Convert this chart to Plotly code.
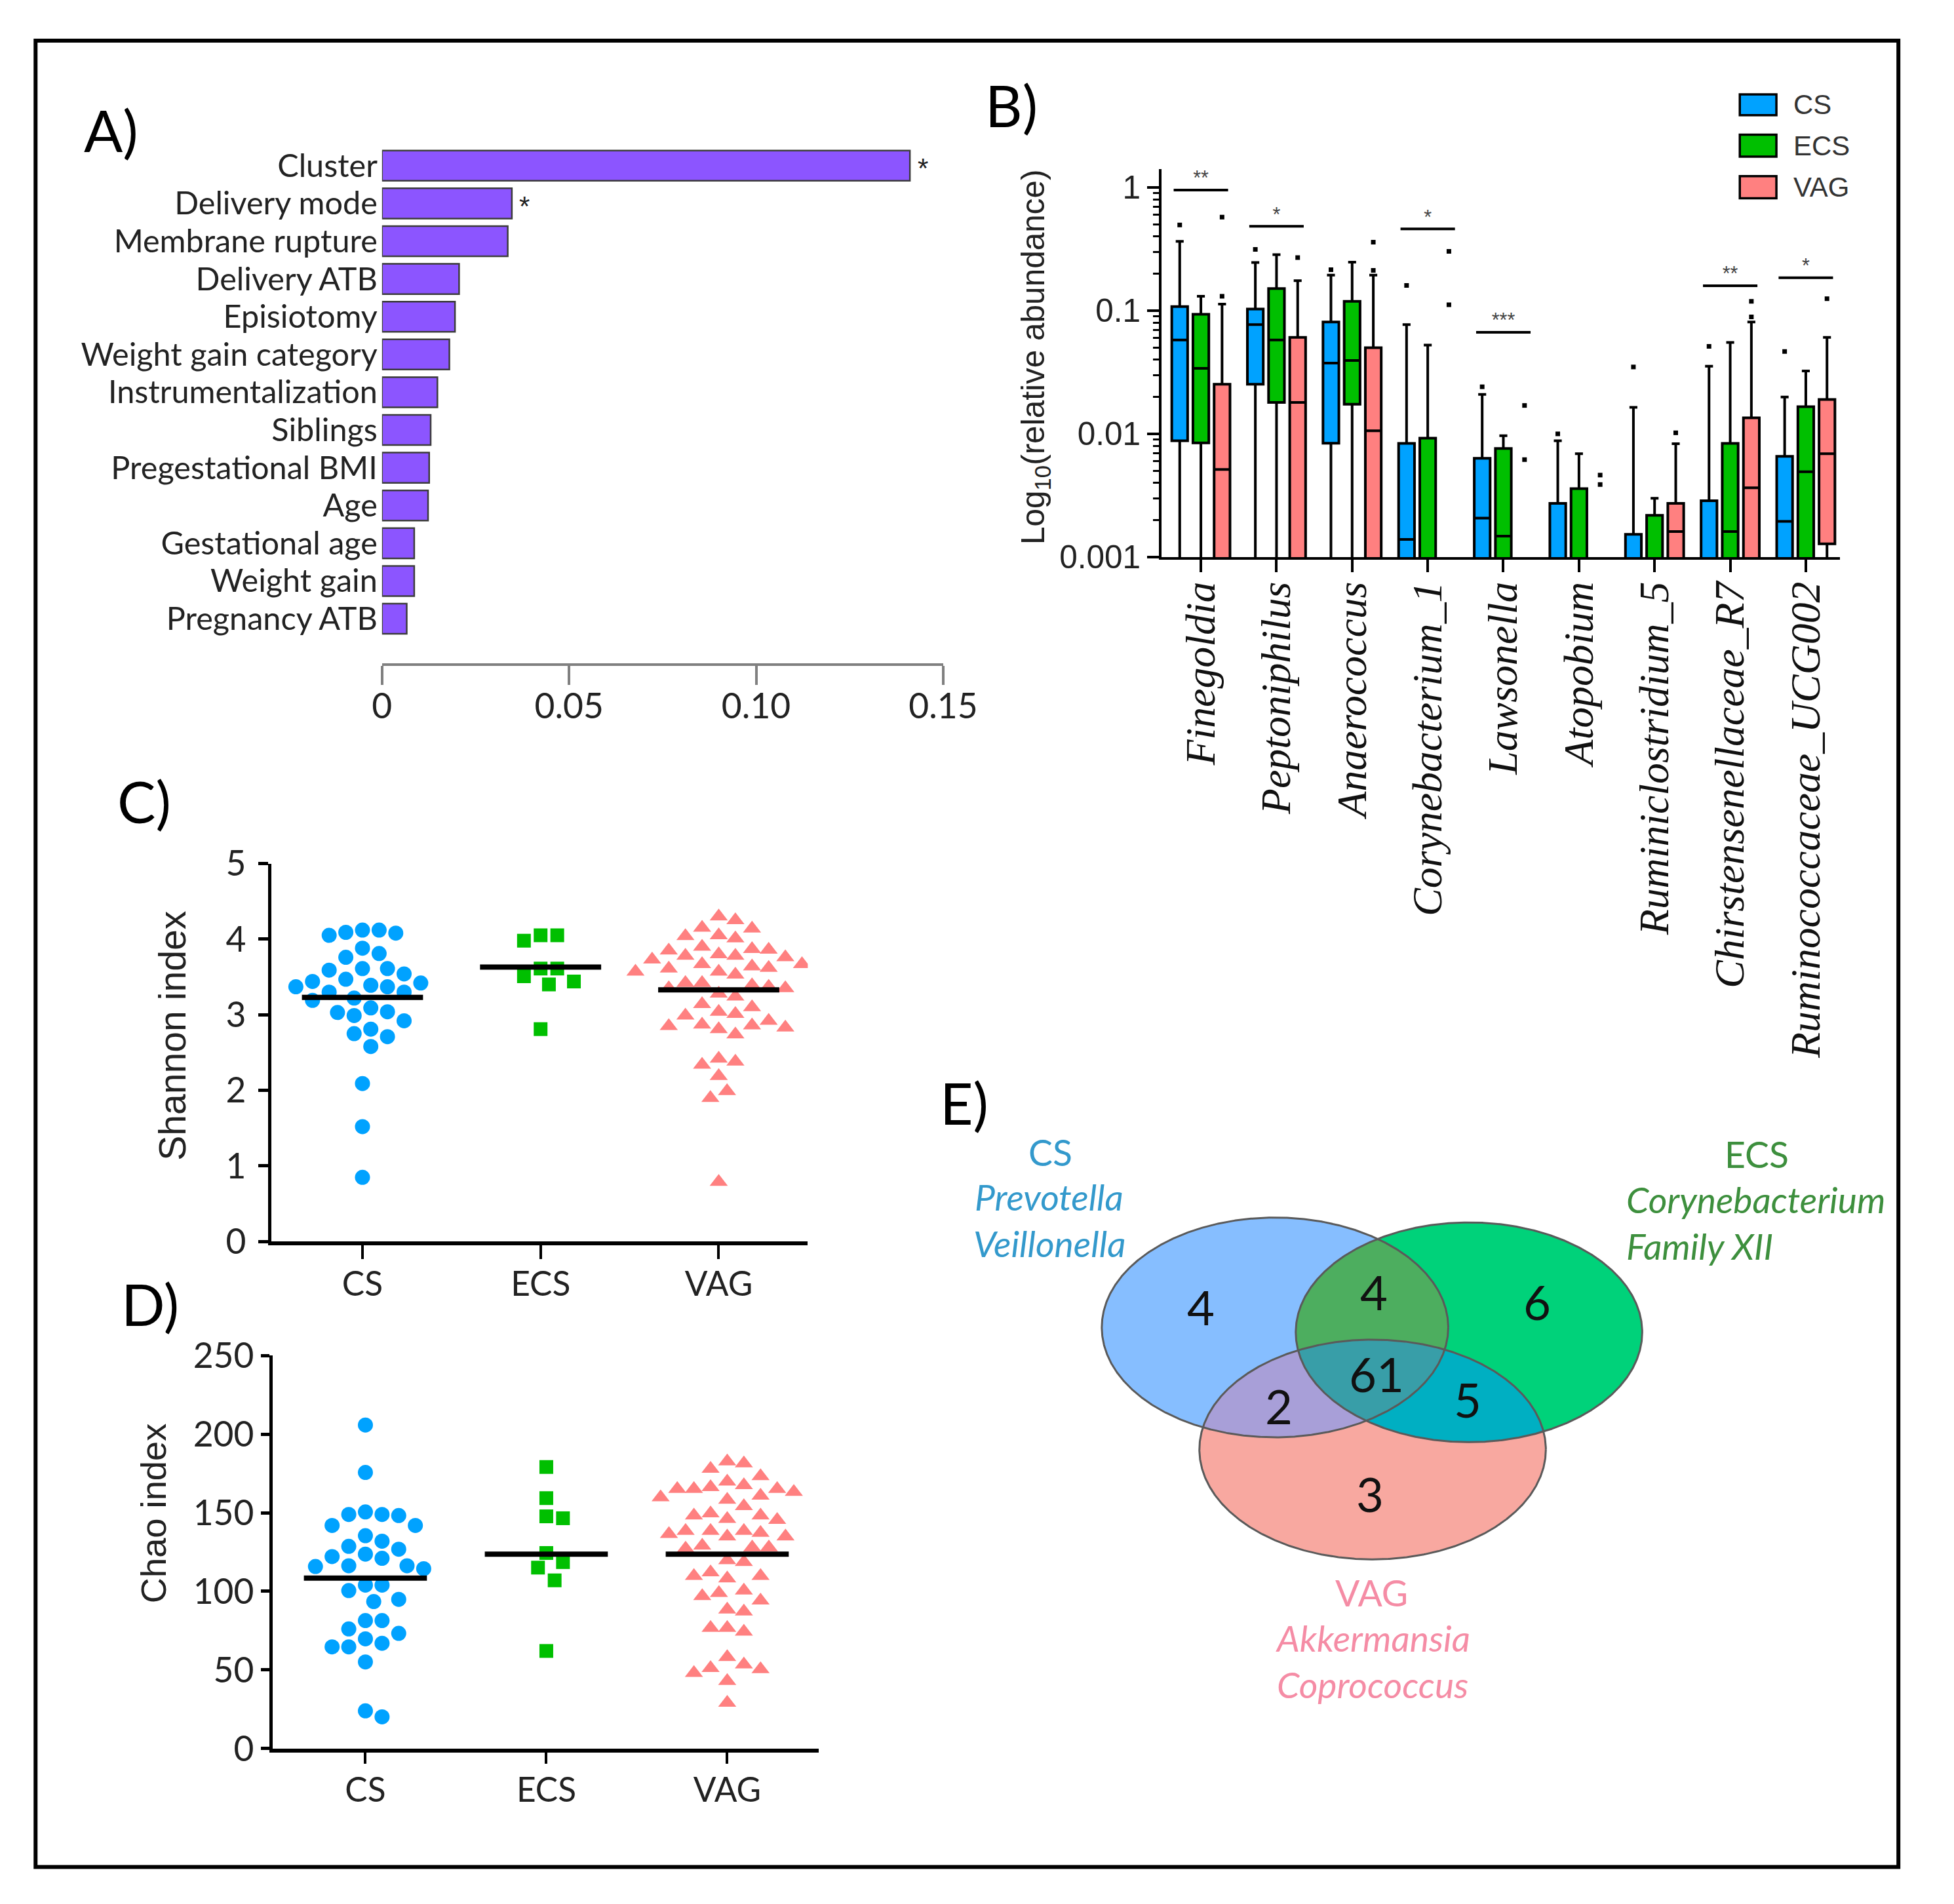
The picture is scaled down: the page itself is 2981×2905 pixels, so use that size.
import numpy as np
import plotly.graph_objects as go

# ============================ DATA ============================
# Panel A - variable importance
A_FEATURES = ["Cluster", "Delivery mode", "Membrane rupture", "Delivery ATB", "Episiotomy",
              "Weight gain category", "Instrumentalization", "Siblings", "Pregestational BMI",
              "Age", "Gestational age", "Weight gain", "Pregnancy ATB"]
A_IMPORTANCE = [0.1411, 0.0347, 0.0336, 0.0206, 0.0195, 0.0180, 0.0148, 0.0130, 0.0126,
                0.0123, 0.0086, 0.0086, 0.0066]
A_STARS = ["*", "*", "", "", "", "", "", "", "", "", "", "", ""]
A_TICKVALS = [0, 0.05, 0.10, 0.15]
A_TICKTEXT = ["0", "0.05", "0.10", "0.15"]

# Panel B - relative abundance box plots (ND = below 0.001 detection floor)
B_GENERA = ["Finegoldia", "Peptoniphilus", "Anaerococcus", "Corynebacterium_1", "Lawsonella",
            "Atopobium", "Ruminiclostridium_5", "Chirstensenellaceae_R7", "Ruminococcaceae_UCG002"]
ND = 0.0008
CS_Q1 = [0.0088, 0.0253, 0.0084, ND, ND, ND, ND, ND, ND]
CS_MED = [0.0578, 0.077, 0.0375, 0.00139, 0.00207, ND, ND, ND, 0.00195]
CS_Q3 = [0.108, 0.103, 0.081, 0.00837, 0.00634, 0.00273, 0.00153, 0.00287, 0.00658]
CS_LO = [ND, ND, ND, ND, ND, ND, ND, ND, ND]
CS_HI = [0.365, 0.246, 0.194, 0.077, 0.0209, 0.00879, 0.0164, 0.0354, 0.0199]
CS_OUT = [[0.496], [0.314], [0.215], [0.160], [0.0241], [0.0100], [0.0349], [0.0513], [0.0466]]

ECS_Q1 = [0.00845, 0.018, 0.0174, ND, ND, ND, ND, ND, ND]
ECS_MED = [0.034, 0.0578, 0.0394, ND, 0.00148, ND, ND, 0.00161, 0.00493]
ECS_Q3 = [0.0935, 0.151, 0.119, 0.00922, 0.0076, 0.00359, 0.00218, 0.00837, 0.0166]
ECS_LO = [ND, ND, ND, ND, ND, ND, ND, ND, ND]
ECS_HI = [0.131, 0.285, 0.247, 0.0525, 0.00966, 0.0069, 0.0030, 0.0551, 0.0324]
ECS_OUT = [[], [], [], [], [], [], [], [], []]

VAG_Q1 = [ND, ND, ND, None, None, None, ND, ND, 0.00128]
VAG_MED = [0.00515, 0.018, 0.0106, None, None, None, 0.00161, 0.00365, 0.0069]
VAG_Q3 = [0.0253, 0.0607, 0.050, None, None, None, 0.00273, 0.0135, 0.019]
VAG_LO = [ND, ND, ND, None, None, None, ND, ND, ND]
VAG_HI = [0.113, 0.175, 0.194, None, None, None, 0.00833, 0.081, 0.0607]
VAG_OUT = [[0.131, 0.573], [0.269], [0.212, 0.359], [0.1117, 0.303], [0.00618, 0.017],
           [0.00388, 0.00463], [0.0102], [0.089, 0.119], [0.125]]

B_SIG_LABEL = ["**", "*", "", "*", "***", "", "", "**", "*"]
B_SIG_Y = [0.95, 0.484, None, 0.461, 0.0668, None, None, 0.159, 0.185]
B_YTICKVALS = [0.001, 0.01, 0.1, 1]
B_YTICKTEXT = ["0.001", "0.01", "0.1", "1"]

# Panels C / D - alpha diversity
GROUPS = ["CS", "ECS", "VAG"]
SHANNON_CS = [4.12, 4.08, 4.05, 4.09, 4.12, 3.81, 3.88, 3.76, 3.61, 3.59, 3.54, 3.61, 3.44, 3.39,
              3.37, 3.30, 3.30, 3.37, 3.42, 3.47, 3.22, 3.19, 2.99, 3.09, 3.04, 2.92, 3.03, 2.81,
              2.71, 2.75, 2.58, 2.09, 1.52, 0.85]
SHANNON_ECS = [4.05, 3.98, 4.05, 3.61, 3.61, 3.44, 3.40, 3.51, 2.81]
SHANNON_VAG = [4.25, 4.30, 4.14, 4.15, 4.05, 4.04, 4.01, 3.90, 3.86, 3.80, 3.78, 3.85, 3.87, 3.76,
               3.73, 3.78, 3.67, 3.67, 3.62, 3.57, 3.53, 3.57, 3.61, 3.64, 3.42, 3.37, 3.35, 3.28,
               3.24, 3.35, 3.39, 3.42, 3.14, 3.04, 2.99, 3.01, 3.10, 2.87, 2.85, 2.81, 2.74, 2.83,
               2.86, 2.92, 2.38, 2.19, 2.34, 2.42, 1.99, 1.90, 0.79]
SHANNON_MEAN = [3.23, 3.63, 3.33]

CHAO_CS = [205.8, 175.6, 150.5, 148.9, 148.2, 148.9, 141.9, 141.9, 135.4, 131.9, 126.8, 128.6,
           122.1, 123.7, 116.3, 115.8, 114.4, 116.3, 121.0, 104.0, 100.5, 104.0, 93.5, 94.9, 81.4,
           81.4, 76.1, 73.3, 67.0, 69.8, 64.7, 64.7, 55.1, 20.2, 24.0]
CHAO_ECS = [179.1, 159.3, 147.7, 146.5, 124.4, 118.6, 115.1, 107.0, 62.1]
CHAO_VAG = [182.6, 181.4, 177.9, 169.8, 173.3, 166.3, 167.5, 165.1, 165.1, 165.1, 163.3, 160.9,
            158.2, 159.8, 154.2, 148.2, 146.1, 148.2, 149.6, 145.4, 138.4, 137.2, 134.9, 138.4,
            134.9, 136.5, 138.4, 127.9, 129.1, 127.2, 127.9, 119.8, 118.6, 109.8, 108.2, 112.1,
            109.8, 98.9, 100.5, 94.2, 97.0, 87.2, 88.4, 76.8, 74.4, 76.8, 58.2, 51.2, 48.1, 50.5,
            53.5, 43.0, 29.1]
CHAO_MEAN = [108.4, 123.6, 123.6]

# Panel E - Venn counts
VENN_ONLY_CS = 4
VENN_ONLY_ECS = 6
VENN_ONLY_VAG = 3
VENN_CS_ECS = 4
VENN_CS_VAG = 2
VENN_ECS_VAG = 5
VENN_ALL = 61
CS_UNIQUE = ["Prevotella", "Veillonella"]
ECS_UNIQUE = ["Corynebacterium", "Family XII"]
VAG_UNIQUE = ["Akkermansia", "Coprococcus"]

# ============================ LAYOUT HELPERS ============================
WIN_W, WIN_H = 2981, 2905
PAGE_MARGIN = 8                       # default body margin of the html page
W, H = WIN_W - 2 * PAGE_MARGIN, WIN_H - 2 * PAGE_MARGIN
SX, SY = 1565.0, 1525.0               # reference layout units
K = WIN_W / SX                        # window pixels per layout unit


def fx(u):
    return (u * K - PAGE_MARGIN) / W


def fy(v):
    return 1 - (v * K - PAGE_MARGIN) / H


def dom_x(a, b):
    return [fx(a), fx(b)]


def dom_y(top, bottom):
    return [fy(bottom), fy(top)]


def f(u):
    return u * K


def fi(u):
    return int(round(u * K))


SANS = "Lato, Open Sans, sans-serif"
ARIAL = "Liberation Sans, Arial, sans-serif"
SERIF = "Liberation Serif, Times New Roman, serif"

C_CS, C_ECS, C_VAG = "#00A2FF", "#00BF00", "#FF8080"
BAR_COLOR = "#8C55FF"

fig = go.Figure()
annotations = []


def note(x, y, text, size, color="#222", family=SANS, xanchor="center", yanchor="middle",
         angle=0, style="normal", xref="paper", yref="paper"):
    if xref == "paper":
        x = fx(x)
    if yref == "paper":
        y = fy(y)
    annotations.append(dict(x=x, y=y, xref=xref, yref=yref, text=text, showarrow=False,
                            xanchor=xanchor, yanchor=yanchor, textangle=angle,
                            font=dict(family=family, size=f(size), color=color, style=style)))


# ============================ PANEL A ============================
fig.add_trace(go.Bar(
    x=A_IMPORTANCE, y=A_FEATURES, orientation="h", width=0.8,
    marker=dict(color=BAR_COLOR, line=dict(color="#3c3c3c", width=2.5)),
    xaxis="x", yaxis="y", showlegend=False, hoverinfo="skip"))

for feat, val, st in zip(A_FEATURES, A_IMPORTANCE, A_STARS):
    if st:
        annotations.append(dict(x=val, y=feat, xref="x", yref="y", text=st, showarrow=False,
                                xanchor="left", yanchor="middle", xshift=f(5), yshift=-f(2),
                                font=dict(family=ARIAL, size=f(22), color="#222")))

# ============================ PANEL B ============================
B_OFF = 0.28
B_BOXW = 0.21


def box_trace(color, q1, med, q3, lo, hi, off):
    xs, Q1, M, Q3, LO, HI = [], [], [], [], [], []
    for i, (a, b, c, d, e) in enumerate(zip(q1, med, q3, lo, hi)):
        if a is None:
            continue
        xs.append(i + off); Q1.append(a); M.append(b); Q3.append(c); LO.append(d); HI.append(e)
    return go.Box(x=xs, q1=Q1, median=M, q3=Q3, lowerfence=LO, upperfence=HI,
                  width=B_BOXW, whiskerwidth=0.5, fillcolor=color,
                  line=dict(color="black", width=4), boxpoints=False,
                  xaxis="x2", yaxis="y2", showlegend=False, hoverinfo="skip")


for col, q1, med, q3, lo, hi, off in [
        (C_CS, CS_Q1, CS_MED, CS_Q3, CS_LO, CS_HI, -B_OFF),
        (C_ECS, ECS_Q1, ECS_MED, ECS_Q3, ECS_LO, ECS_HI, 0.0),
        (C_VAG, VAG_Q1, VAG_MED, VAG_Q3, VAG_LO, VAG_HI, B_OFF)]:
    fig.add_trace(box_trace(col, q1, med, q3, lo, hi, off))

ox, oy = [], []
for outs, off in [(CS_OUT, -B_OFF), (ECS_OUT, 0.0), (VAG_OUT, B_OFF)]:
    for i, vals in enumerate(outs):
        for v in vals:
            ox.append(i + off); oy.append(v)
fig.add_trace(go.Scatter(x=ox, y=oy, mode="markers", xaxis="x2", yaxis="y2",
                         marker=dict(symbol="square", size=7, color="black"),
                         showlegend=False, hoverinfo="skip"))

sx_, sy_, tx_, ty_, tt_ = [], [], [], [], []
for i, (lab, yv) in enumerate(zip(B_SIG_LABEL, B_SIG_Y)):
    if not lab:
        continue
    sx_ += [i - 0.36, i + 0.36, None]
    sy_ += [yv, yv, None]
    tx_.append(i); ty_.append(yv); tt_.append(lab)
fig.add_trace(go.Scatter(x=sx_, y=sy_, mode="lines", xaxis="x2", yaxis="y2",
                         line=dict(color="black", width=4), showlegend=False, hoverinfo="skip"))
fig.add_trace(go.Scatter(x=tx_, y=ty_, mode="text", text=tt_, textposition="top center",
                         textfont=dict(family=ARIAL, size=f(16), color="#444"),
                         xaxis="x2", yaxis="y2", showlegend=False, hoverinfo="skip",
                         cliponaxis=False))

B_MINOR = [m * 10.0 ** e for e in (-3, -2, -1) for m in range(2, 10)]

# ============================ PANELS C / D ============================
C_DOMX, C_DOMY, C_XR, C_YR = (214.5, 654), (689, 998.7), [-0.51, 2.5], [0, 5]
D_DOMX, D_DOMY, D_XR, D_YR = (215.6, 663), (1092, 1414), [-0.511, 2.506], [0, 250]


def swarm(values, xppu, yppu, d):
    v = np.asarray(values, float)
    order = np.argsort(-v)
    placed = []
    offs = np.zeros(len(v))
    cands = [0]
    for j in range(1, 60):
        cands += [j, -j]
    for i in order:
        y = v[i] * yppu
        for c in cands:
            xo = c * d * 0.5
            ok = all((xo - px_) ** 2 + (y - py_) ** 2 >= d * d for px_, py_ in placed)
            if ok:
                placed.append((xo, y)); offs[i] = xo / xppu
                break
    return offs


def scale(domx, domy, xr, yr):
    xppu = (domx[1] - domx[0]) * K / (xr[1] - xr[0])
    yppu = (domy[1] - domy[0]) * K / (yr[1] - yr[0])
    return xppu, yppu


MARKERS = [("circle", C_CS, 23), ("square", C_ECS, 21), ("triangle-up", C_VAG, 24)]

for (series, means, domx, domy, xr, yr, xa, ya) in [
        ([SHANNON_CS, SHANNON_ECS, SHANNON_VAG], SHANNON_MEAN, C_DOMX, C_DOMY, C_XR, C_YR, "x3", "y3"),
        ([CHAO_CS, CHAO_ECS, CHAO_VAG], CHAO_MEAN, D_DOMX, D_DOMY, D_XR, D_YR, "x4", "y4")]:
    xppu, yppu = scale(domx, domy, xr, yr)
    for gi, (vals, (sym, col, sz)) in enumerate(zip(series, MARKERS)):
        offs = swarm(vals, xppu, yppu, 26)
        fig.add_trace(go.Scatter(x=gi + offs, y=vals, mode="markers", xaxis=xa, yaxis=ya,
                                 marker=dict(symbol=sym, size=sz, color=col, line=dict(width=0)),
                                 showlegend=False, hoverinfo="skip"))
    mx, my = [], []
    for gi, m in enumerate(means):
        mx += [gi - 0.34, gi + 0.34, None]
        my += [m, m, None]
    fig.add_trace(go.Scatter(x=mx, y=my, mode="lines", xaxis=xa, yaxis=ya,
                             line=dict(color="black", width=8), showlegend=False, hoverinfo="skip"))

# ============================ PANEL E (Venn) ============================
V_DOMX, V_DOMY = (880, 1360), (965, 1275)
E_CS = (1037, 1069, 142, 90)
E_ECS = (1196, 1073, 142, 90)
E_VAG = (1117, 1169, 142, 90)


def ell(e, n=900):
    cx, cy, rx, ry = e
    t = np.linspace(0, 2 * np.pi, n, endpoint=False)
    return cx + rx * np.cos(t), cy + ry * np.sin(t)


def inside(e, x, y):
    cx, cy, rx, ry = e
    return ((x - cx) / rx) ** 2 + ((y - cy) / ry) ** 2 <= 1 + 1e-9


def region(es):
    xs, ys = [], []
    for i, e in enumerate(es):
        x, y = ell(e)
        m = np.ones_like(x, bool)
        for j, o in enumerate(es):
            if j != i:
                m &= inside(o, x, y)
        xs.append(x[m]); ys.append(y[m])
    x = np.concatenate(xs); y = np.concatenate(ys)
    a = np.arctan2(y - y.mean(), x - x.mean())
    o = np.argsort(a)
    return list(x[o]) + [x[o][0]], list(y[o]) + [y[o][0]]


for es, col in [([E_CS], "#86BEFF"), ([E_ECS], "#00D27A"), ([E_CS, E_ECS], "#4DAE5F"),
                ([E_VAG], "#F8A8A0"), ([E_CS, E_VAG], "#A89FD8"), ([E_ECS, E_VAG], "#00AFC2"),
                ([E_CS, E_ECS, E_VAG], "#389EA8")]:
    rx_, ry_ = region(es)
    fig.add_trace(go.Scatter(x=rx_, y=ry_, mode="lines", fill="toself", fillcolor=col,
                             line=dict(width=0), xaxis="x5", yaxis="y5",
                             showlegend=False, hoverinfo="skip"))
for e in [E_CS, E_ECS, E_VAG]:
    x, y = ell(e)
    fig.add_trace(go.Scatter(x=list(x) + [x[0]], y=list(y) + [y[0]], mode="lines",
                             line=dict(color="#5a5a5a", width=3), xaxis="x5", yaxis="y5",
                             showlegend=False, hoverinfo="skip"))

venn_pos = [(VENN_ONLY_CS, 976, 1052), (VENN_CS_ECS, 1118, 1040), (VENN_ONLY_ECS, 1252, 1048),
            (VENN_CS_VAG, 1040, 1133), (VENN_ALL, 1120, 1107), (VENN_ECS_VAG, 1195, 1128),
            (VENN_ONLY_VAG, 1115, 1205)]
for n, x, y in venn_pos:
    note(x, y, str(n), 38, color="#111", xref="x5", yref="y5")

CS_TXT, ECS_TXT, VAG_TXT = "#3399CC", "#3D8F3D", "#F58CA5"
VFS = 29
note(853, 925, "CS", VFS, color=CS_TXT)
for k, g in enumerate(CS_UNIQUE):
    note(852, 962 + 38 * k, g, VFS, color=CS_TXT, style="italic")
note(1432, 927, "ECS", VFS, color=ECS_TXT)
for k, g in enumerate(ECS_UNIQUE):
    note(1324, 964 + 38 * k, g, VFS, color=ECS_TXT, style="italic", xanchor="left")
note(1116, 1286, "VAG", VFS, color=VAG_TXT)
for k, g in enumerate(VAG_UNIQUE):
    note(1117, 1323 + 38 * k, g, VFS, color=VAG_TXT, style="italic")

# ============================ TEXT / LABELS ============================
for lab, x, y in [("A)", 83, 88), ("B)", 821, 68), ("C)", 110, 638), ("D)", 115, 1050), ("E)", 782, 885)]:
    note(x, y, lab, 46, color="black")

note(840, 274, "Log<sub>10</sub>(relative abundance)", 26, family=ARIAL, angle=-90)
note(133, 830, "Shannon index", 30, family=ARIAL, angle=-90)
note(118, 1221, "Chao index", 28.5, family=ARIAL, angle=-90)

shapes = []
for g, col, (t, b) in zip(GROUPS, [C_CS, C_ECS, C_VAG], [(59, 76), (92, 110), (126, 144)]):
    shapes.append(dict(type="rect", xref="paper", yref="paper", x0=fx(1418), x1=fx(1448),
                       y0=fy(b), y1=fy(t), fillcolor=col, line=dict(color="black", width=3.5)))
    note(1461, (t + b) / 2, g, 22, family=ARIAL, color="#333", xanchor="left")

shapes.append(dict(type="rect", xref="paper", yref="paper", x0=fx(21), x1=fx(1548),
                   y0=fy(1511), y1=fy(15), line=dict(color="black", width=6)))

# ============================ AXES ============================
gray = "#808080"
layout_axes = dict(
    xaxis=dict(domain=dom_x(305, 765), range=[0, 0.15], anchor="y", tickvals=A_TICKVALS,
               ticktext=A_TICKTEXT, ticks="outside", ticklen=f(15), tickwidth=4, tickcolor=gray,
               showline=True, linecolor=gray, linewidth=4, showgrid=False, zeroline=False,
               ticklabelstandoff=-fi(7),
               tickfont=dict(family=SANS, size=f(28), color="#222")),
    yaxis=dict(domain=dom_y(101.9, 525), anchor="x", type="category",
               categoryarray=A_FEATURES, range=[13.18, -0.5], tickmode="array",
               tickvals=A_FEATURES, showline=False, ticks="",
               showgrid=False, zeroline=False, ticklabelstandoff=fi(3),
               tickfont=dict(family=SANS, size=f(25.5), color="#222")),
    xaxis2=dict(domain=dom_x(944, 1500), range=[-0.52, 8.45], anchor="y2",
                tickvals=list(range(len(B_GENERA))), ticktext=B_GENERA, tickangle=-90,
                ticks="outside", ticklen=f(10), tickwidth=4, tickcolor="black",
                showline=True, linecolor="black", linewidth=4, showgrid=False, zeroline=False,
                ticklabelstandoff=-fi(6),
                tickfont=dict(family=SERIF, size=f(33.5), color="#111", style="italic")),
    yaxis2=dict(domain=dom_y(120, 438), type="log", range=[-3, 0.15], anchor="x2",
                tickvals=B_YTICKVALS, ticktext=B_YTICKTEXT, ticks="outside", ticklen=f(9.5),
                tickwidth=4, tickcolor="black", showline=True, linecolor="black", linewidth=4,
                showgrid=False, zeroline=False,
                minor=dict(tickvals=B_MINOR, ticks="outside", ticklen=f(5), tickwidth=3,
                           tickcolor="black", showgrid=False),
                tickfont=dict(family=ARIAL, size=f(26), color="#222")),
    xaxis3=dict(domain=dom_x(*C_DOMX), range=C_XR, anchor="y3", tickvals=[0, 1, 2],
                ticktext=GROUPS, ticks="outside", ticklen=f(11), tickwidth=4, tickcolor="black",
                showline=True, linecolor="black", linewidth=6, showgrid=False, zeroline=False,
                ticklabelstandoff=-fi(3), tickfont=dict(family=SANS, size=f(27), color="#222")),
    yaxis3=dict(domain=dom_y(*C_DOMY), range=C_YR, anchor="x3", tickvals=[0, 1, 2, 3, 4, 5],
                ticks="outside", ticklen=f(8), tickwidth=5, tickcolor="black",
                showline=True, linecolor="black", linewidth=5, showgrid=False, zeroline=False,
                ticklabelstandoff=fi(4), tickfont=dict(family=SANS, size=f(28), color="#222")),
    xaxis4=dict(domain=dom_x(*D_DOMX), range=D_XR, anchor="y4", tickvals=[0, 1, 2],
                ticktext=GROUPS, ticks="outside", ticklen=f(9), tickwidth=4, tickcolor="black",
                showline=True, linecolor="black", linewidth=6, showgrid=False, zeroline=False,
                ticklabelstandoff=-fi(2), tickfont=dict(family=SANS, size=f(27), color="#222")),
    yaxis4=dict(domain=dom_y(*D_DOMY), range=D_YR, anchor="x4",
                tickvals=[0, 50, 100, 150, 200, 250], ticks="outside", ticklen=f(7), tickwidth=5,
                tickcolor="black", showline=True, linecolor="black", linewidth=5, showgrid=False,
                zeroline=False, ticklabelstandoff=0,
                tickfont=dict(family=SANS, size=f(28), color="#222")),
    xaxis5=dict(domain=dom_x(*V_DOMX), range=list(V_DOMX), anchor="y5", visible=False),
    yaxis5=dict(domain=dom_y(*V_DOMY), range=[V_DOMY[1], V_DOMY[0]], anchor="x5", visible=False),
)

fig.update_layout(
    width=W, height=H, margin=dict(l=0, r=0, t=0, b=0),
    paper_bgcolor="white", plot_bgcolor="rgba(0,0,0,0)",
    font=dict(family=SANS, color="#222"),
    showlegend=False, annotations=annotations, shapes=shapes, **layout_axes)

fig.write_html("out.html")
